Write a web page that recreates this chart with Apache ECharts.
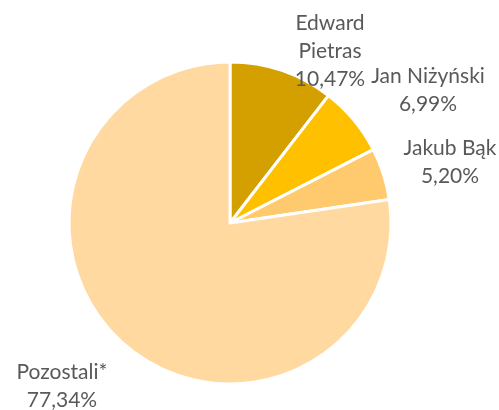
<!DOCTYPE html>
<html>
<head>
<meta charset="utf-8">
<script src="https://cdn.jsdelivr.net/npm/echarts@6/dist/echarts.min.js"></script>
<style>
  html, body { margin: 0; padding: 0; background: #fff; }
  #chart { width: 499px; height: 410px; }
</style>
</head>
<body>
<div id="chart"></div>
<script>
const names = ['Edward\nPietras', 'Jan Niżyński', 'Jakub Bąk', 'Pozostali*'];
const shares = [10.47, 6.99, 5.20, 77.34];
const colors = ['#D4A000', '#FFC000', '#FFCA6E', '#FFD9A0'];
// label anchor points (centre of each text block)
const labelPos = [[330, 51], [428, 90], [450, 162], [62, 386]];

const myChart = echarts.init(document.getElementById('chart'));

myChart.setOption({
  animation: false,
  series: [{
    type: 'pie',
    center: [230, 223],
    radius: [0, 161],
    startAngle: 90,
    clockwise: true,
    itemStyle: { borderColor: '#fff', borderWidth: 3 },
    label: {
      show: true,
      position: 'outside',
      color: '#595959',
      fontFamily: 'Lato',
      fontSize: 21,
      lineHeight: 28,
      align: 'center',
      overflow: 'none',
      width: 200,
      formatter: p => p.name + '\n' + p.value.toFixed(2).replace('.', ',') + '%'
    },
    labelLine: { show: false },
    labelLayout: p => ({
      x: labelPos[p.dataIndex][0],
      y: labelPos[p.dataIndex][1],
      align: 'center',
      verticalAlign: 'middle'
    }),
    emphasis: { disabled: true },
    data: names.map((n, i) => ({ name: n, value: shares[i], itemStyle: { color: colors[i] } }))
  }]
});
</script>
</body>
</html>
